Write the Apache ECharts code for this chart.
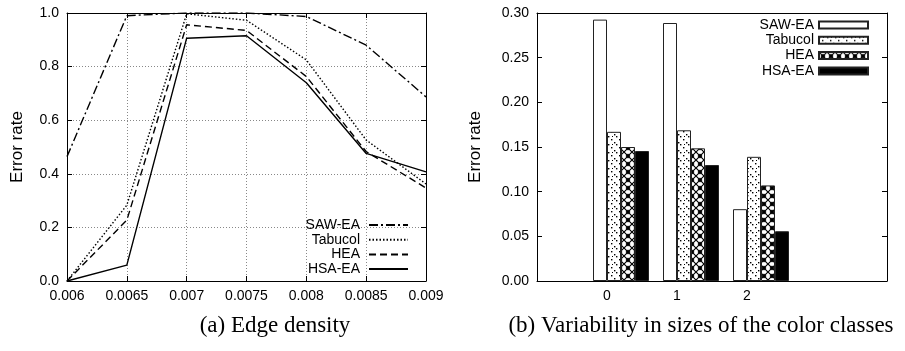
<!DOCTYPE html>
<html>
<head>
<meta charset="utf-8">
<script src="https://cdn.jsdelivr.net/npm/echarts@6/dist/echarts.min.js"></script>
<style>
  html, body { margin: 0; padding: 0; background: #fff; }
  #chart { width: 905px; height: 351px; }
</style>
</head>
<body>
<div id="chart"></div>
<script>
// (a) error rate against edge density
const densities = [0.006, 0.0065, 0.007, 0.0075, 0.008, 0.0085, 0.009]
const sawEaDensity = [0.464, 0.99, 1.0, 1.0, 0.987, 0.88, 0.687]
const tabucolDensity = [0.0, 0.283, 0.997, 0.973, 0.825, 0.526, 0.362]
const heaDensity = [0.0, 0.227, 0.956, 0.935, 0.763, 0.483, 0.347]
const hsaEaDensity = [0.0, 0.059, 0.906, 0.915, 0.74, 0.476, 0.407]

// (b) error rate against variability of class sizes
const variability = [0, 1, 2]
const sawEaVar = [0.2926, 0.2888, 0.0804]
const tabucolVar = [0.167, 0.1687, 0.139]
const heaVar = [0.150, 0.1485, 0.107]
const hsaEaVar = [0.1455, 0.1298, 0.0557]

const algorithms = ['SAW-EA', 'Tabucol', 'HEA', 'HSA-EA']

const SANS = 'Liberation Sans, Arial, sans-serif'
const SERIF = 'Liberation Serif, Times New Roman, serif'
const GROUP_SHIFT = 0.2 // gnuplot histogram groups sit right of their tic

function makePattern (size, draw) {
  const c = document.createElement('canvas')
  c.width = size
  c.height = size
  const ctx = c.getContext('2d')
  ctx.fillStyle = '#fff'
  ctx.fillRect(0, 0, size, size)
  ctx.fillStyle = '#000'
  ctx.strokeStyle = '#000'
  draw(ctx, size)
  return { image: c, repeat: 'repeat' }
}

const dotPattern = makePattern(8, ctx => {
  ctx.fillRect(0, 0, 1.4, 1.4)
  ctx.fillRect(3, 3, 1.4, 1.4)
  ctx.fillRect(6, 6, 1.4, 1.4)
  ctx.fillRect(4, 0, 1, 1)
})

const hatchPattern = makePattern(8, (ctx, s) => {
  ctx.lineWidth = 1.2
  ctx.beginPath()
  ctx.moveTo(0, 0); ctx.lineTo(s, s)
  ctx.moveTo(s, 0); ctx.lineTo(0, s)
  ctx.stroke()
  ctx.beginPath()
  ctx.moveTo(4, 1.5); ctx.lineTo(6.5, 4); ctx.lineTo(4, 6.5); ctx.lineTo(1.5, 4)
  ctx.closePath()
  ctx.fill()
})

const lineTypes = [[9, 3, 2, 3], [1.5, 2], [7, 4], 'solid']
const barFills = ['#fff', dotPattern, hatchPattern, '#000']
const densitySets = [sawEaDensity, tabucolDensity, heaDensity, hsaEaDensity]
const varSets = [sawEaVar, tabucolVar, heaVar, hsaEaVar]

const axisLine = { show: true, onZero: false, lineStyle: { color: '#000', width: 1 } }
const tickIn = { show: true, inside: true, length: 5, lineStyle: { color: '#000' } }
const label = { color: '#000', fontSize: 14, fontFamily: SANS, margin: 8 }
const gridLine = { show: true, lineStyle: { color: '#888', type: [1, 2], width: 1 } }

const chart = echarts.init(document.getElementById('chart'), null, { renderer: 'canvas' })

chart.setOption({
  animation: false,
  backgroundColor: '#fff',
  grid: [
    { left: 67, top: 13, width: 359, height: 268 },
    { left: 537, top: 13, width: 350, height: 268 },
  ],
  xAxis: [
    {
      gridIndex: 0, type: 'value', min: 0.006, max: 0.009, interval: 0.0005,
      axisLine, axisTick: tickIn, axisLabel: label, splitLine: gridLine,
    },
    {
      gridIndex: 0, type: 'value', position: 'top', min: 0.006, max: 0.009, interval: 0.0005,
      axisLine, axisTick: tickIn, axisLabel: { show: false }, splitLine: { show: false },
    },
    {
      gridIndex: 1, type: 'value', min: -1, max: 4, interval: 1,
      axisLine, axisTick: { show: false },
      axisLabel: { ...label, formatter: v => variability.includes(v) ? String(v) : '' },
      splitLine: { show: false },
    },
    {
      gridIndex: 1, type: 'value', position: 'top', min: -1, max: 4, interval: 1,
      axisLine, axisTick: { show: false }, axisLabel: { show: false }, splitLine: { show: false },
    },
  ],
  yAxis: [
    {
      gridIndex: 0, type: 'value', min: 0, max: 1, interval: 0.2,
      axisLine, axisTick: tickIn, splitLine: gridLine,
      axisLabel: { ...label, formatter: v => v.toFixed(1) },
      name: 'Error rate', nameLocation: 'middle', nameGap: 41,
      nameTextStyle: { color: '#000', fontSize: 17, fontFamily: SANS },
    },
    {
      gridIndex: 0, type: 'value', position: 'right', min: 0, max: 1, interval: 0.2,
      axisLine, axisTick: tickIn, axisLabel: { show: false }, splitLine: { show: false },
    },
    {
      gridIndex: 1, type: 'value', min: 0, max: 0.3, interval: 0.05,
      axisLine, axisTick: tickIn, splitLine: { show: false },
      axisLabel: { ...label, formatter: v => v.toFixed(2) },
      name: 'Error rate', nameLocation: 'middle', nameGap: 53,
      nameTextStyle: { color: '#000', fontSize: 17, fontFamily: SANS },
    },
    {
      gridIndex: 1, type: 'value', position: 'right', min: 0, max: 0.3, interval: 0.05,
      axisLine, axisTick: tickIn, axisLabel: { show: false }, splitLine: { show: false },
    },
  ],
  legend: [
    {
      orient: 'vertical', align: 'right', right: 491, top: 213,
      itemWidth: 39, itemHeight: 14, itemGap: 0.7, selectedMode: false,
      itemStyle: { opacity: 0 },
      textStyle: { color: '#000', fontSize: 14, fontFamily: SANS, padding: [0, 4, 0, 0] },
      data: algorithms,
    },
    {
      orient: 'vertical', align: 'right', right: 31, top: 13, icon: 'rect',
      itemWidth: 49, itemHeight: 7, itemGap: 1.3, selectedMode: false,
      textStyle: { color: '#000', fontSize: 14, fontFamily: SANS },
      formatter: name => name.trim(),
      data: algorithms.map(a => a + ' '),
    },
  ],
  series: [
    ...algorithms.map((name, k) => ({
      name,
      type: 'line',
      xAxisIndex: 0,
      yAxisIndex: 0,
      symbol: 'none',
      lineStyle: { color: '#000', width: 1.4, type: lineTypes[k] },
      itemStyle: { color: '#000' },
      data: densities.map((d, i) => [d, densitySets[k][i]]),
    })),
    ...algorithms.map((name, k) => ({
      name: name + ' ',
      type: 'bar',
      xAxisIndex: 2,
      yAxisIndex: 2,
      barWidth: 14,
      barGap: '0%',
      itemStyle: { color: barFills[k], borderColor: '#222', borderWidth: 1 },
      data: variability.map((v, i) => [v + GROUP_SHIFT, varSets[k][i]]),
    })),
  ],
  graphic: [
    {
      type: 'text', x: 275, y: 326,
      style: { text: '(a) Edge density', font: '23px ' + SERIF, fill: '#000', align: 'center', verticalAlign: 'middle' },
    },
    {
      type: 'text', x: 701, y: 326,
      style: { text: '(b) Variability in sizes of the color classes', font: '23px ' + SERIF, fill: '#000', align: 'center', verticalAlign: 'middle' },
    },
  ],
})
</script>
</body>
</html>
